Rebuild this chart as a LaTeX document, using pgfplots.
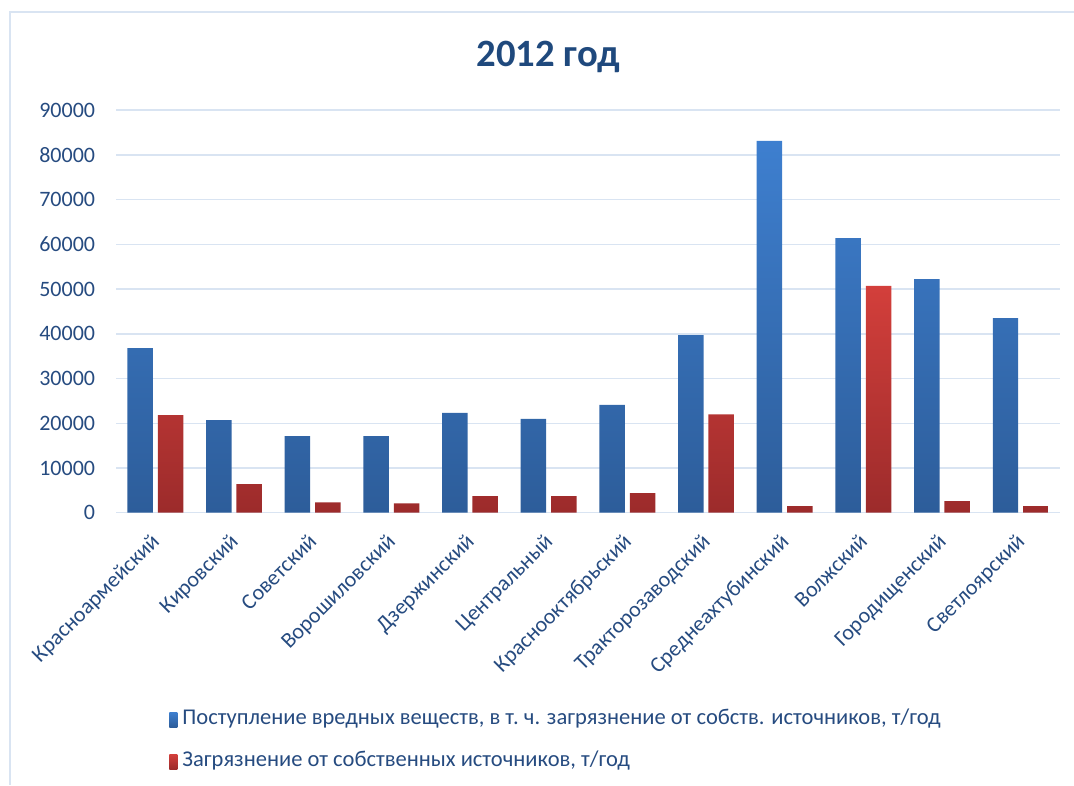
\documentclass[border=0pt]{standalone}
\usepackage{pgfplots}
\pgfplotsset{compat=1.18}
\usepackage{fontspec}
\setmainfont{Carlito}
\definecolor{blueT}{HTML}{3E7FCF}
\definecolor{blueB}{HTML}{2D5D9A}
\definecolor{redT}{HTML}{D33F3B}
\definecolor{redB}{HTML}{9C2B2B}
\definecolor{gridc}{HTML}{D9E4F2}
\definecolor{txt}{HTML}{264B80}
\definecolor{ttl}{HTML}{1F497D}
\begin{document}
\begin{tikzpicture}
\path[use as bounding box] (0,0) rectangle (805.5pt,588.75pt);
\draw[gridc, line width=0.9pt] (7.5pt,0) -- (7.5pt,579.75pt) -- (806pt,579.75pt);
\node[anchor=base, font=\fontsize{29pt}{34pt}\selectfont\bfseries, text=ttl, inner sep=0pt] at (411.4pt,538.5pt) {2012 год};
\begin{axis}[
  at={(87pt,204.2pt)}, anchor=south west,
  scale only axis, width=708pt, height=302pt,
  xmin=-0.5, xmax=11.5, ymin=0, ymax=90000,
  ybar,
  ytick={0,10000,...,90000},
  xtick={0,...,11},
  xticklabels={Красноармейский,Кировский,Советский,Ворошиловский,Дзержинский,Центральный,Краснооктябрьский,Тракторозаводский,Среднеахтубинский,Волжский,Городищенский,Светлоярский},
  scaled y ticks=false,
  /pgf/number format/.cd, 1000 sep={}, assume math mode=true, /pgfplots/.cd,
  ymajorgrids, major grid style={gridc, line width=1.1pt},
  axis line style={draw=none},
  major tick length=0pt,
  tick label style={font=\fontsize{16.5pt}{19pt}\selectfont, text=txt},
  yticklabel style={anchor=east, inner sep=0pt, xshift=-15.5pt},
  xticklabel style={xshift=-4pt, yshift=-14.5pt, rotate=45, anchor=north east, inner sep=0pt},
  legend style={at={(0.052,-0.48)}, anchor=north west, draw=none, fill=none,
    font=\fontsize{16.9pt}{19pt}\selectfont, text=txt, row sep=15.5pt,
    nodes={inner sep=0pt, text height=12pt, text depth=4pt}},
  legend cell align=left,
  legend image code/.code={\path[#1, draw=none] (0pt,-5.6pt) rectangle (6pt,5.6pt);},
]
\addplot[draw=none, bar width=0.324, bar shift=-0.193, top color=blueT, bottom color=blueB]
 coordinates {(0,36800) (1,20700) (2,17100) (3,17100) (4,22300) (5,21000) (6,24100) (7,39700) (8,83100) (9,61400) (10,52200) (11,43500)};
\addplot[draw=none, bar width=0.324, bar shift=0.193, top color=redT, bottom color=redB]
 coordinates {(0,21800) (1,6400) (2,2300) (3,2100) (4,3700) (5,3700) (6,4400) (7,22000) (8,1500) (9,50700) (10,2600) (11,1500)};
\legend{{\ Поступление вредных веществ, в т.~ч. загрязнение от собств. источников, т/год},{\ Загрязнение от собственных источников, т/год}}
\end{axis}
\end{tikzpicture}
\end{document}
